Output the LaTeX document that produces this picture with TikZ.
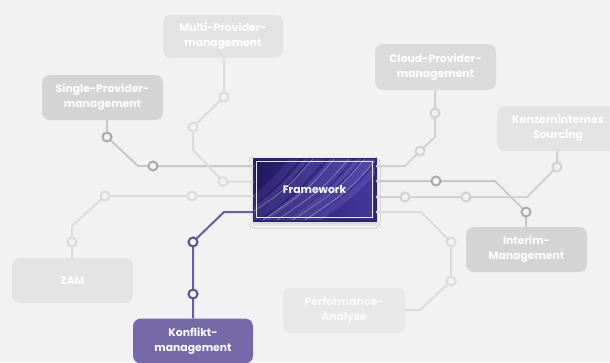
\documentclass[tikz,border=0pt]{standalone}
\usepackage{fontspec}
\setmainfont{Poppins}
\usetikzlibrary{calc,shadows.blur}
\definecolor{bgc}{HTML}{F2F2F2}
\definecolor{lnA}{HTML}{C9C9C9}
\definecolor{lnB}{HTML}{DCDCDC}
\definecolor{lnC}{HTML}{D2D2D2}
\definecolor{boxA}{HTML}{D4D4D4}
\definecolor{boxB}{HTML}{E3E3E3}
\definecolor{boxC}{HTML}{DBDBDB}
\definecolor{boxD}{HTML}{E8E8E8}
\definecolor{kfill}{HTML}{7569AA}
\definecolor{kline}{HTML}{6A5EA3}
\definecolor{kdot}{HTML}{5B4F94}
\definecolor{fwdark}{HTML}{211860}
\definecolor{fwmid}{HTML}{45389C}
\definecolor{fwlight}{HTML}{7A6ECC}
\definecolor{fwborder}{HTML}{2C2372}
\tikzset{
  card/.style={rounded corners=8pt, minimum width=121pt, minimum height=45pt,
    align=center, text=white, font=\bfseries\fontsize{10.8}{15}\selectfont,
    inner sep=0pt},
  ln/.style={line width=2pt, line join=round},
  dot/.style={circle, draw, line width=2pt, fill=bgc, minimum size=9pt, inner sep=0pt},
}
\begin{document}
\begin{tikzpicture}[x=1pt,y=-1pt]
\fill[bgc] (0,0) rectangle (610,362);
\useasboundingbox (0,0) rectangle (610,362);

% cards
\node[card, fill=boxB, minimum width=120pt, minimum height=43pt] (multi) at (223,36.5) {Multi-Provider-\\management};
\node[card, fill=boxA] (single) at (102.5,97.5) {Single-Provider-\\management};
\node[card, fill=boxC, minimum height=46pt] (cloud) at (435.5,67) {Cloud-Provider-\\management};
\node[card, fill=boxB, minimum width=122pt] (konzern) at (558,128.5) {Konzerninternes\\Sourcing};
\node[card, fill=boxB] (zam) at (72.5,280.5) {ZAM};
\node[card, fill=boxA] (interim) at (526.5,249.5) {Interim-\\Management};
\node[card, fill=boxD, minimum width=122pt, text=white!96!gray] (perf) at (344,310.5) {Performance-\\Analyse};
\node[card, fill=kfill, minimum width=120pt] (konflikt) at (193,341) {Konflikt-\\management};

% framework
\node[minimum width=121pt, minimum height=61pt, inner sep=0pt,
  left color=fwdark, right color=fwmid, draw=fwborder, line width=1.5pt,
  blur shadow={shadow blur steps=8, shadow xshift=0pt, shadow yshift=-3pt, shadow opacity=18, shadow blur radius=5pt}] (fw) at (314.5,189.5) {};
\begin{scope}
\clip (fw.north west) rectangle (fw.south east);
\foreach \a/\w/\o in {298/8/0.18, 310/4/0.3, 322/10/0.25, 336/4/0.35, 348/12/0.28, 362/4/0.4, 374/9/0.3, 388/6/0.3}{
  \draw[fwlight, line width=\w pt, opacity=\o] (\a,155) .. controls ($(\a,155)+(-30,35)$) .. ($(\a,155)+(-85,75)$);
}
\foreach \a in {316,338,352,368,380}{
  \draw[white, line width=0.5pt, opacity=0.45] (\a,155) .. controls ($(\a,155)+(-30,35)$) .. ($(\a,155)+(-90,75)$);
}
\end{scope}
\draw[white!85!fwlight, line width=1.3pt] ($(fw.north west)+(3,3)$) rectangle ($(fw.south east)+(-3,-3)$);
\draw[fwborder, line width=1.5pt] (fw.north west) rectangle (fw.south east);
\node[text=white, font=\bfseries\fontsize{10.8}{12}\selectfont] (fwt) at (fw.center) {Framework};

% coordinates
\coordinate (s1) at (107,137); \coordinate (sb) at (138,166); \coordinate (s2) at (153,166);
\coordinate (m1) at (224,97); \coordinate (m2) at (193,127); \coordinate (mb) at (193,150); \coordinate (m3) at (223,181.5);
\coordinate (z1) at (72,242); \coordinate (zb) at (72,226); \coordinate (z2) at (105,196); \coordinate (z3) at (192,196);
\coordinate (k1) at (193,294); \coordinate (k2) at (193,242); \coordinate (kb) at (224,212);
\coordinate (c1) at (435,113); \coordinate (cb) at (435,137); \coordinate (c2) at (420,151); \coordinate (cc) at (405,166);
\coordinate (q1) at (557,167); \coordinate (qb) at (527,197); \coordinate (q2) at (466,197); \coordinate (q3) at (405,197);
\coordinate (i1) at (526,212); \coordinate (ib) at (495,181); \coordinate (i2) at (436,181);
\coordinate (p0) at (421,212); \coordinate (p1) at (451,242); \coordinate (p2) at (451,281); \coordinate (pb) at (420,310);

% lines
\draw[ln, lnA] (s1 |- single.south) -- (s1) -- (sb) -- (fw.west |- sb);
\draw[ln, lnB] (m1 |- multi.south) -- (m1) -- (m2) -- (mb) -- (m3) -- (fw.west |- m3);
\draw[ln, lnB] (z1 |- zam.north) -- (z1) -- (zb) -- (z2) -- (fw.west |- z2);
\draw[ln, kline] (k1 |- konflikt.north) -- (k1) -- (k2) -- (kb) -- (fw.west |- kb);
\draw[ln, lnC] (c1 |- cloud.south) -- (c1) -- (cb) -- (c2) -- (cc) -- (fw.east |- cc);
\draw[ln, lnC] (q1 |- konzern.south) -- (q1) -- (qb) -- (fw.east |- qb);
\draw[ln, lnA] (i1 |- interim.north) -- (i1) -- (ib) -- (fw.east |- ib);
\draw[ln, lnB] (fw.east |- p0) -- (p0) -- (p1) -- (p2) -- (pb) -- (perf.east |- pb);

% dots
\node[dot, draw=lnA!85!black] (ds1) at (s1) {};
\node[dot, draw=lnA!85!black] (ds2) at (s2) {};
\node[dot, draw=lnB] (dm1) at (m1) {};
\node[dot, draw=lnB] (dm2) at (m2) {};
\node[dot, draw=lnB] (dm3) at (m3) {};
\node[dot, draw=lnB] (dz1) at (z1) {};
\node[dot, draw=lnB] (dz2) at (z2) {};
\node[dot, draw=lnB] (dz3) at (z3) {};
\node[dot, draw=kdot] (dk1) at (k1) {};
\node[dot, draw=kdot] (dk2) at (k2) {};
\node[dot, draw=lnC] (dc1) at (c1) {};
\node[dot, draw=lnC] (dc2) at (c2) {};
\node[dot, draw=lnC] (dq1) at (q1) {};
\node[dot, draw=lnC] (dq2) at (q2) {};
\node[dot, draw=lnC] (dq3) at (q3) {};
\node[dot, draw=lnA!85!black] (di1) at (i1) {};
\node[dot, draw=lnA!85!black] (di2) at (i2) {};
\node[dot, draw=lnB] (dp1) at (p1) {};
\node[dot, draw=lnB] (dp2) at (p2) {};
\end{tikzpicture}
\end{document}
